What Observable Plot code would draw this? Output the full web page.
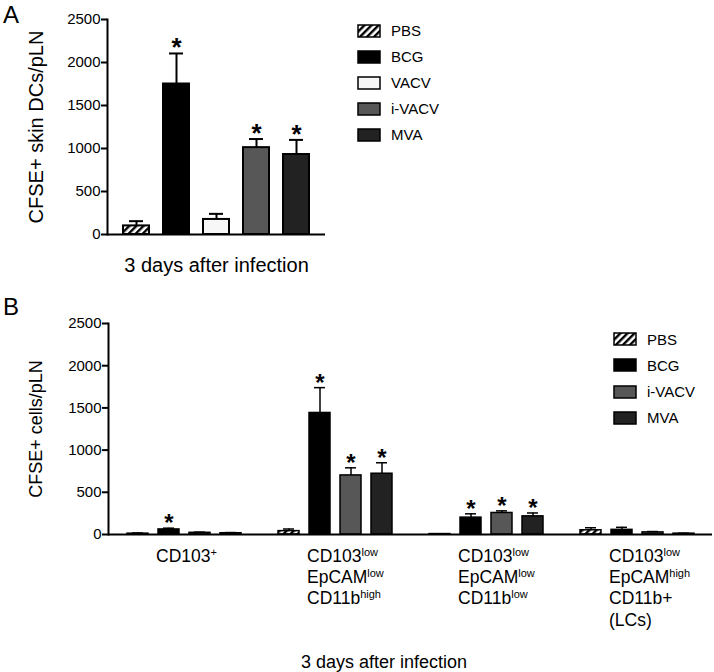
<!DOCTYPE html>
<html>
<head>
<meta charset="utf-8">
<script src="https://cdn.jsdelivr.net/npm/d3@7"></script>
<script src="https://cdn.jsdelivr.net/npm/@observablehq/plot@0.6"></script>
<style>
  html, body { margin: 0; padding: 0; background: #fff; }
  body { font-family: "Liberation Sans", Arial, Helvetica, sans-serif; color: #000; }
  #fig { position: relative; width: 714px; height: 672px; overflow: hidden; background: #fff; }
  .abs { position: absolute; }
  .leg { position: absolute; display: flex; align-items: center; white-space: nowrap; }
  .leg svg { display: block; margin-right: 10px; }
</style>
</head>
<body>
<svg width="0" height="0" style="position:absolute">
  <defs>
    <pattern id="hatch" patternUnits="userSpaceOnUse" width="5" height="5" patternTransform="rotate(45)">
      <rect width="5" height="5" fill="#fff"></rect>
      <rect width="2.4" height="5" fill="#000"></rect>
    </pattern>
  </defs>
</svg>
<div id="fig"></div>
<script>
// ---------- Panel A data ----------
const treatmentsA = ["PBS", "BCG", "VACV", "i-VACV", "MVA"];
const meanA = [100, 1750, 175, 1010, 930];
const errA = [55, 355, 65, 100, 170];
const starA = [0, 1, 0, 1, 1];
const fillsA = ["url(#hatch)", "#000000", "#f7f7f7", "#575757", "#222222"];
const yTicks = [0, 500, 1000, 1500, 2000, 2500];
const yLabelA = "CFSE+ skin DCs/pLN";
const xLabelA = "3 days after infection";

// ---------- Panel B data ----------
const groupsB = [
  "CD103^+",
  "CD103^low\nEpCAM^low\nCD11b^high",
  "CD103^low\nEpCAM^low\nCD11b^low",
  "CD103^low\nEpCAM^high\nCD11b+\n(LCs)"
];
const treatmentsB = ["PBS", "BCG", "i-VACV", "MVA"];
const fillsB = ["url(#hatch)", "#000000", "#575757", "#222222"];
const pbsB = [10, 40, 5, 50];
const pbsErrB = [8, 25, 3, 30];
const bcgB = [60, 1440, 200, 55];
const bcgErrB = [15, 300, 45, 30];
const ivacvB = [20, 700, 255, 25];
const ivacvErrB = [8, 90, 25, 10];
const mvaB = [15, 720, 215, 10];
const mvaErrB = [8, 130, 40, 5];
const pbsStarB = [0, 0, 0, 0];
const bcgStarB = [1, 1, 1, 0];
const ivacvStarB = [0, 1, 1, 0];
const mvaStarB = [0, 1, 1, 0];
const yLabelB = "CFSE+ cells/pLN";
const xLabelB = "3 days after infection";

// ---------- build tables ----------
const dataA = treatmentsA.map((t, i) => ({t, mean: meanA[i], top: meanA[i] + errA[i], star: starA[i]}));
const meansB = [pbsB, bcgB, ivacvB, mvaB];
const errsB = [pbsErrB, bcgErrB, ivacvErrB, mvaErrB];
const starsB = [pbsStarB, bcgStarB, ivacvStarB, mvaStarB];
const dataB = [];
groupsB.forEach((g, gi) => treatmentsB.forEach((t, ti) => dataB.push({
  g, t, mean: meansB[ti][gi], top: meansB[ti][gi] + errsB[ti][gi], star: starsB[ti][gi]
})));

const FONT = "'Liberation Sans', Arial, Helvetica, sans-serif";
const NARROW = "'Liberation Sans Narrow', 'Liberation Sans', Arial, sans-serif";
const fig = document.getElementById("fig");

// ---------- Panel A ----------
const plotA = Plot.plot({
  width: 340, height: 290,
  marginLeft: 107, marginRight: 15, marginTop: 19, marginBottom: 56,
  style: {fontFamily: FONT, fontSize: "15px", color: "#000", background: "transparent", overflow: "visible"},
  x: {domain: treatmentsA, paddingInner: 0.355, paddingOuter: 0.38, axis: null},
  y: {domain: [0, 2500], axis: null},
  color: {domain: treatmentsA, range: fillsA},
  marks: [
    Plot.barY(dataA, {x: "t", y: "mean", fill: "t", stroke: "#000", strokeWidth: 2}),
    Plot.ruleX(dataA, {x: "t", y1: "mean", y2: "top", strokeWidth: 2}),
    Plot.tickY(dataA, {x: "t", y: "top", strokeWidth: 2, insetLeft: 6, insetRight: 6}),
    Plot.text(dataA.filter(d => d.star), {x: "t", y: "top", text: () => "*", fontSize: 26, fontWeight: "bold", lineAnchor: "bottom", dy: 3}),
    Plot.axisY({ticks: yTicks, tickSize: 6, strokeWidth: 2, tickPadding: 1, tickFormat: "d", fontSize: 15, label: null}),
    Plot.axisY({ticks: yTicks, tickSize: 0, tickFormat: () => "", label: yLabelA, labelAnchor: "center", labelArrow: "none", labelOffset: 79, fontSize: 20}),
    Plot.frame({anchor: "left", strokeWidth: 2}),
    Plot.ruleY([0], {strokeWidth: 2}),
    Plot.text([xLabelA], {text: d => d, frameAnchor: "bottom", lineAnchor: "middle", dy: 31, fontSize: 20})
  ]
});
plotA.style.position = "absolute";
plotA.style.left = "0px";
plotA.style.top = "0px";
fig.appendChild(plotA);

// ---------- Panel B ----------
const plotB = Plot.plot({
  width: 714, height: 382,
  marginLeft: 108, marginRight: 2, marginTop: 33, marginBottom: 138,
  style: {fontFamily: FONT, fontSize: "15px", color: "#000", background: "transparent", overflow: "visible"},
  fx: {domain: groupsB, padding: 0, axis: null},
  x: {domain: treatmentsB, paddingInner: 0.33, paddingOuter: 0.56, axis: null},
  y: {domain: [0, 2500], axis: null},
  color: {domain: treatmentsB, range: fillsB},
  marks: [
    Plot.barY(dataB, {fx: "g", x: "t", y: "mean", fill: "t", stroke: "#000", strokeWidth: 1.5}),
    Plot.ruleX(dataB, {fx: "g", x: "t", y1: "mean", y2: "top", strokeWidth: 1.5}),
    Plot.tickY(dataB, {fx: "g", x: "t", y: "top", strokeWidth: 1.5, insetLeft: 5, insetRight: 5}),
    Plot.text(dataB.filter(d => d.star), {fx: "g", x: "t", y: "top", text: () => "*", fontSize: 24, fontWeight: "bold", lineAnchor: "bottom", dy: 3}),
    Plot.axisY({ticks: yTicks, tickSize: 6, strokeWidth: 2, tickPadding: 1, tickFormat: "d", fontSize: 15, fontFamily: NARROW, label: null}),
    Plot.axisY({ticks: yTicks, tickSize: 0, tickFormat: () => "", label: yLabelB, labelAnchor: "center", labelArrow: "none", labelOffset: 79, fontSize: 18, fontFamily: NARROW}),
    Plot.frame({anchor: "left", strokeWidth: 2, facetAnchor: "left"}),
    Plot.ruleY([0], {strokeWidth: 2}),
    Plot.text(groupsB, {fx: d => d, text: d => d, frameAnchor: "bottom", textAnchor: "start", lineAnchor: "top", dx: -28, dy: 12, fontSize: 17.5, lineHeight: 1.22})
  ]
});
plotB.style.position = "absolute";
plotB.style.left = "0px";
plotB.style.top = "290px";
fig.appendChild(plotB);

// superscripts marked with ^
plotB.querySelectorAll("text, tspan").forEach(el => {
  if (el.children.length === 0 && el.textContent.includes("^")) {
    const [base, sup] = el.textContent.split("^");
    el.textContent = base;
    const s = document.createElementNS("http://www.w3.org/2000/svg", "tspan");
    s.setAttribute("baseline-shift", "super");
    s.setAttribute("font-size", "11");
    s.textContent = sup;
    el.appendChild(s);
  }
});

// ---------- HTML extras: panel letters, B x title, legends ----------
function addDiv(text, css) {
  const d = document.createElement("div");
  d.className = "abs";
  d.textContent = text;
  Object.assign(d.style, css);
  fig.appendChild(d);
  return d;
}
addDiv("A", {left: "3px", top: "3px", fontSize: "24px", lineHeight: "1"});
addDiv("B", {left: "3px", top: "295px", fontSize: "24px", lineHeight: "1"});
addDiv(xLabelB, {left: "384px", top: "652px", fontSize: "18px", lineHeight: "20px", transform: "translateX(-50%)", whiteSpace: "nowrap"});

function legend(items, fills, left, top, step, font, size) {
  items.forEach((name, i) => {
    const row = document.createElement("div");
    row.className = "leg";
    row.style.left = left + "px";
    row.style.top = (top + i * step - 10) + "px";
    row.style.height = "20px";
    row.style.fontFamily = font;
    row.style.fontSize = size + "px";
    const sw = d3.create("svg").attr("width", 24).attr("height", 14);
    sw.append("rect").attr("x", 1).attr("y", 1).attr("width", 22).attr("height", 12)
      .attr("fill", fills[i]).attr("stroke", "#000").attr("stroke-width", 1.5);
    row.appendChild(sw.node());
    const lab = document.createElement("span");
    lab.textContent = name;
    row.appendChild(lab);
    fig.appendChild(row);
  });
}
legend(treatmentsA, fillsA, 357, 30.5, 26, FONT, 15);
legend(treatmentsB, fillsB, 613, 339, 26.3, NARROW, 15);
</script>
</body>
</html>
